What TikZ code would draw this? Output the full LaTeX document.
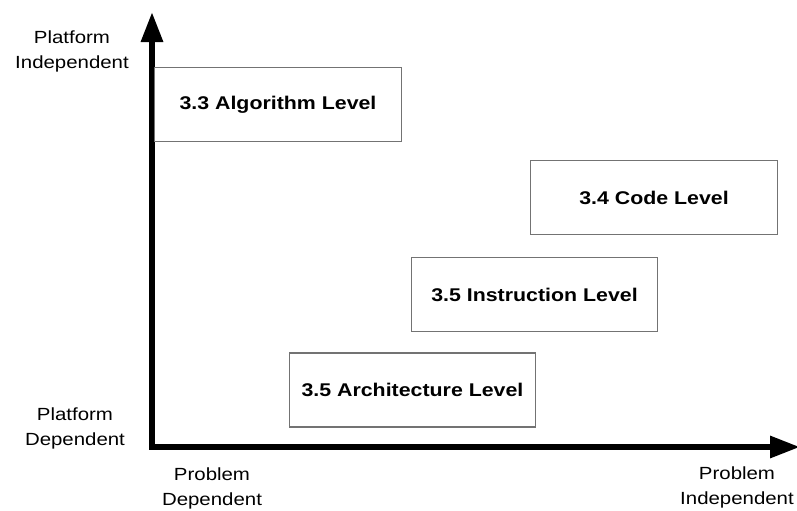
\documentclass[tikz,border=0pt]{standalone}
\usepackage{fontspec}
\setmainfont{Liberation Sans}[FakeStretch=1.16]
\usetikzlibrary{arrows.meta}
\begin{document}
\begin{tikzpicture}[x=0.75pt,y=-0.75pt,
  axis/.style={line width=4.5pt,line join=miter,
    {Triangle[length=22.5pt,width=15.75pt]}-{Triangle[length=22.5pt,width=15.75pt]}},
  levelbox/.style={draw=black!55,line width=0.8pt,fill=white,
    minimum width=185pt,minimum height=55.5pt,inner sep=0pt,
    font=\fontsize{13.8}{16}\selectfont\bfseries},
  axislabel/.style={align=center,inner sep=0pt,anchor=base,
    font=\fontsize{13.2}{18.75}\selectfont}]
  \useasboundingbox (0,0) rectangle (797,511);

  % axes
  \coordinate (origin) at (152,447);
  \coordinate (ytip) at (152,12);
  \coordinate (xtip) at (800,447);
  \draw[axis] (ytip) -- (origin) -- (xtip);

  % level boxes
  \node[levelbox] (algo)  at (278,104.5) {3.3 Algorithm Level};
  \node[levelbox] (code)  at (654,197.5) {3.4 Code Level};
  \node[levelbox] (instr) at (534.5,294.5) {3.5 Instruction Level};
  \node[levelbox] (arch)  at (412.5,390) {3.5 Architecture Level};

  % axis end labels (anchored at the baseline of their last line)
  \node[axislabel] (pi) at (72,68)   {Platform\\Independent};
  \node[axislabel] (pd) at (75,445)  {Platform\\Dependent};
  \node[axislabel] (qd) at (212,505) {Problem\\Dependent};
  \node[axislabel] (qi) at (737,504) {Problem\\Independent};
\end{tikzpicture}
\end{document}
